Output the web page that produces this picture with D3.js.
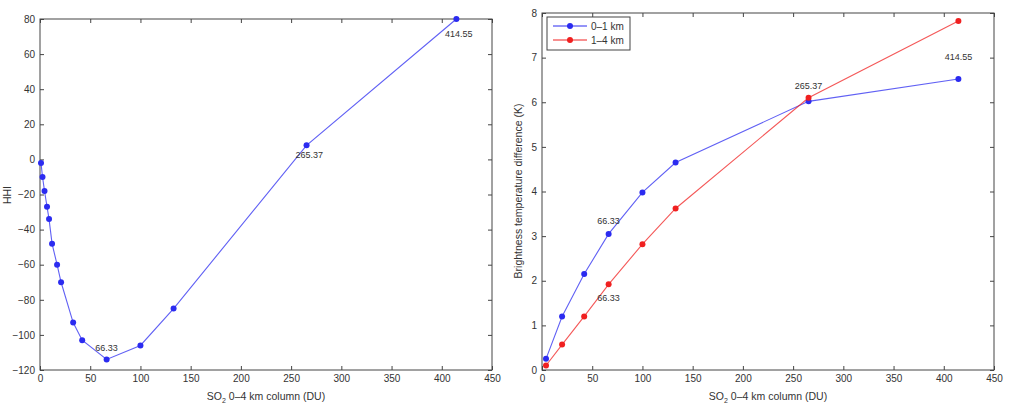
<!DOCTYPE html><html><head><script src="https://d3js.org/d3.v7.min.js"></script>
<style>body{margin:0;background:#fff}text{font-family:"Liberation Sans",Arial,sans-serif;fill:#333}</style></head><body>
<svg id="c" width="1012" height="404"></svg>
<script>
const leftX=[1,2.5,4.5,7,9,12,17,21,33,42,66.33,100,133,265.37,414.55];
const leftY=[-2,-10,-18,-27,-34,-48,-60,-70,-93,-103,-114,-106,-85,8,80];
const rightX=[4,20,42,66.33,100,133,265.37,414.55];
const blueY=[0.25,1.2,2.15,3.05,3.98,4.65,6.02,6.52];
const redY=[0.1,0.57,1.2,1.92,2.82,3.62,6.1,7.82];
const xTicks=[0,50,100,150,200,250,300,350,400,450];
const leftTicks=[-120,-100,-80,-60,-40,-20,0,20,40,60,80];
const rightTicks=[0,1,2,3,4,5,6,7,8];
const svg=d3.select("#c");
function panel(x0,x1,y0,y1,ydom,yt){
  const x=d3.scaleLinear().domain([0,450]).range([x0,x1]);
  const y=d3.scaleLinear().domain(ydom).range([y1,y0]);
  const g=svg.append("g");
  g.append("rect").attr("x",x0).attr("y",y0).attr("width",x1-x0).attr("height",y1-y0).attr("fill","none").attr("stroke","#444");
  const fmt=d=>String(d).replace("-","\u2212");
  g.append("g").attr("transform",`translate(0,${y1})`).call(d3.axisBottom(x).tickValues(xTicks).tickSize(-4).tickPadding(5)).call(a=>{a.select(".domain").remove();a.selectAll("line").attr("stroke","#444");a.selectAll("text").attr("font-size",10).style("fill","#333")});
  g.append("g").attr("transform",`translate(0,${y0})`).call(d3.axisTop(x).tickValues(xTicks).tickSize(-4).tickFormat("")).call(a=>{a.select(".domain").remove();a.selectAll("line").attr("stroke","#444")});
  g.append("g").attr("transform",`translate(${x0},0)`).call(d3.axisLeft(y).tickValues(yt).tickSize(-4).tickPadding(5).tickFormat(fmt)).call(a=>{a.select(".domain").remove();a.selectAll("line").attr("stroke","#444");a.selectAll("text").attr("font-size",10).style("fill","#333")});
  g.append("g").attr("transform",`translate(${x1},0)`).call(d3.axisRight(y).tickValues(yt).tickSize(-4).tickFormat("")).call(a=>{a.select(".domain").remove();a.selectAll("line").attr("stroke","#444")});
  const t=g.append("text").attr("x",(x0+x1)/2).attr("y",y1+30).attr("text-anchor","middle").attr("font-size",10.5);
  t.append("tspan").text("SO");t.append("tspan").text("2").attr("font-size",7).attr("dy",3);t.append("tspan").text(" 0\u20134 km column (DU)").attr("dy",-3);
  return {x,y,g};
}
function series(p,xs,ys,col){
  const line=d3.line().x((d,i)=>p.x(xs[i])).y(d=>p.y(d));
  p.g.append("path").attr("d",line(ys)).attr("fill","none").attr("stroke",col).attr("stroke-width",1.1).attr("opacity",0.75);
  p.g.selectAll(null).data(ys).enter().append("circle").attr("cx",(d,i)=>p.x(xs[i])).attr("cy",d=>p.y(d)).attr("r",3).attr("fill",col);
}
function label(p,xv,yv,s){p.g.append("text").attr("x",p.x(xv)).attr("y",p.y(yv)).attr("text-anchor","middle").attr("font-size",9).text(s);}
const L=panel(40,492,19,370,[-120,80],leftTicks);
series(L,leftX,leftY,"#2b2bf0");
label(L,66.33,-109,"66.33");label(L,268,1,"265.37");label(L,417,70,"414.55");
svg.append("text").attr("transform","translate(11,195) rotate(-90)").attr("text-anchor","middle").attr("font-size",10.5).text("HHI");
const R=panel(542,994,13,370,[0,8],rightTicks);
series(R,rightX,blueY,"#2b2bf0");series(R,rightX,redY,"#f02020");
label(R,66.33,3.28,"66.33");label(R,66.33,1.55,"66.33");label(R,265.37,6.3,"265.37");label(R,414.55,6.95,"414.55");
svg.append("text").attr("transform","translate(522,191) rotate(-90)").attr("text-anchor","middle").attr("font-size",10.5).text("Brightness temperature difference (K)");
const lg=R.g.append("g").attr("transform","translate(547,17)");
lg.append("rect").attr("width",83).attr("height",33).attr("fill","#fff").attr("stroke","#444");
[["0\u20131 km","#2b2bf0"],["1\u20134 km","#f02020"]].forEach((d,i)=>{
  const yy=9+i*14;
  lg.append("line").attr("x1",6).attr("x2",40).attr("y1",yy).attr("y2",yy).attr("stroke",d[1]);
  lg.append("circle").attr("cx",23).attr("cy",yy).attr("r",3).attr("fill",d[1]);
  lg.append("text").attr("x",44).attr("y",yy+4).attr("font-size",10).text(d[0]);
});
</script></body></html>
